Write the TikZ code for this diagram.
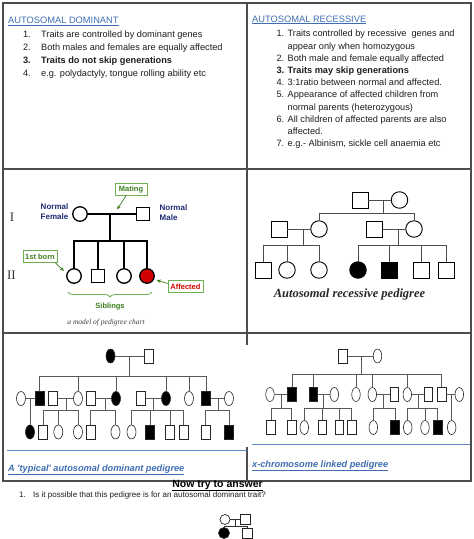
\documentclass[tikz,border=0pt]{standalone}
\usepackage{fontspec}
\setmainfont{Liberation Sans}
\newfontfamily\serifrm{Liberation Serif}
\usetikzlibrary{shapes.geometric,decorations.pathreplacing,arrows.meta}
\definecolor{linkblue}{HTML}{3F6DB3}
\definecolor{ruleblue}{HTML}{5D8AC6}
\definecolor{framegray}{HTML}{4D4D4D}
\definecolor{txtgray}{HTML}{1E1E1E}
\definecolor{labgreen}{HTML}{3D7F1F}
\definecolor{boxgreen}{HTML}{6FAE4E}
\definecolor{navytxt}{HTML}{1E2B72}
\definecolor{affred}{HTML}{D00000}
\newcommand\pedsym[4]{\node[#1] (#2) at (#3,#4) {};}
\begin{document}
\begin{tikzpicture}[x=1pt,y=-1pt,
 frame/.style={draw=framegray,line width=1.3pt},
 itemtxt/.style={inner sep=0pt,anchor=base west,text=txtgray,font=\fontsize{9.2}{11}\selectfont},
 itemnum/.style={inner sep=0pt,anchor=base east,text=txtgray,font=\fontsize{9.2}{11}\selectfont},
 headtxt/.style={inner sep=0pt,anchor=base west,text=linkblue,font=\fontsize{9.3}{11}\selectfont},
 mline/.style={draw=black,line width=1.3pt},
 msq/.style={rectangle,draw=black,line width=1.3pt,minimum size=13pt,inner sep=0pt,fill=white},
 mci/.style={circle,draw=black,line width=1.3pt,minimum size=14.5pt,inner sep=0pt,fill=white},
 navylab/.style={inner sep=0pt,text=navytxt,font=\bfseries\fontsize{8}{9.3}\selectfont},
 gbox/.style={draw=boxgreen,line width=0.6pt,fill=white,inner sep=1.2pt,minimum height=12pt,text=labgreen,font=\bfseries\fontsize{7.5}{8}\selectfont},
 garrow/.style={draw=labgreen,line width=0.7pt,-{Stealth[length=4.5pt,width=3.5pt]}},
 rline/.style={draw=black!70,line width=0.9pt},
 rsq/.style={rectangle,draw=black,line width=0.9pt,minimum size=16pt,inner sep=0pt,fill=white},
 rci/.style={circle,draw=black,line width=0.9pt,minimum size=16.5pt,inner sep=0pt,fill=white},
 tline/.style={draw=black!65,line width=0.6pt},
 tsq/.style={rectangle,draw=black!85,line width=0.6pt,minimum width=9pt,minimum height=14pt,inner sep=0pt,fill=white},
 tel/.style={ellipse,draw=black!85,line width=0.6pt,minimum width=9pt,minimum height=14pt,inner sep=0pt,fill=white},
 xsq/.style={tsq,minimum width=8.5pt},
 xel/.style={tel,minimum width=8.5pt},
 aff/.style={fill=black},
 capblue/.style={inner sep=0pt,anchor=base west,text=linkblue,font=\bfseries\itshape\fontsize{9.2}{11}\selectfont},
 qsq/.style={rectangle,draw=black!85,line width=0.7pt,minimum size=10pt,inner sep=0pt,fill=white},
 qci/.style={circle,draw=black!85,line width=0.7pt,minimum size=10pt,inner sep=0pt,fill=white},
]
\useasboundingbox (0,0) rectangle (474,539);
\fill[white] (0,0) rectangle (474,539);

% ---------- frame ----------
\draw[frame] (3,3) rectangle (471,481);
\draw[frame] (3,169) -- (471,169);
\draw[frame] (3,333) -- (471,333);
\draw[frame] (247,3) -- (247,345);
\draw[frame] (247,447) -- (247,481);

% ---------- autosomal dominant text ----------
\node[headtxt] (adh) at (8,23.5) {\underline{AUTOSOMAL DOMINANT}};
\node[itemnum] (ad1n) at (31,37.8) {1.};
\node[itemtxt] (ad1) at (41,37.8) {Traits are controlled by dominant genes};
\node[itemnum] (ad2n) at (31,50.6) {2.};
\node[itemtxt] (ad2) at (41,50.6) {Both males and females are equally affected};
\node[itemnum,font=\bfseries\fontsize{9.2}{11}\selectfont] (ad3n) at (31,63.4) {3.};
\node[itemtxt,font=\bfseries\fontsize{9.2}{11}\selectfont] (ad3) at (41,63.4) {Traits do not skip generations};
\node[itemnum] (ad4n) at (31,76.2) {4.};
\node[itemtxt] (ad4) at (41,76.2) {e.g. polydactyly, tongue rolling ability etc};

% ---------- autosomal recessive text ----------
\node[headtxt] (arh) at (252,22) {\underline{AUTOSOMAL RECESSIVE}};
\node[itemnum] (ar1n) at (284.5,36.8) {1.};
\node[itemtxt] (ar1) at (287.5,36.8) {Traits controlled by recessive\ \ genes and};
\node[itemtxt] (ar1b) at (287.5,49.0) {appear only when homozygous};
\node[itemnum] (ar2n) at (284.5,61.2) {2.};
\node[itemtxt] (ar2) at (287.5,61.2) {Both male and female equally affected};
\node[itemnum,font=\bfseries\fontsize{9.2}{11}\selectfont] (ar3n) at (284.5,73.4) {3.};
\node[itemtxt,font=\bfseries\fontsize{9.2}{11}\selectfont] (ar3) at (287.5,73.4) {Traits may skip generations};
\node[itemnum] (ar4n) at (284.5,85.6) {4.};
\node[itemtxt] (ar4) at (287.5,85.6) {3:1ratio between normal and affected.};
\node[itemnum] (ar5n) at (284.5,97.8) {5.};
\node[itemtxt] (ar5) at (287.5,97.8) {Appearance of affected children from};
\node[itemtxt] (ar5b) at (287.5,110.0) {normal parents (heterozygous)};
\node[itemnum] (ar6n) at (284.5,122.2) {6.};
\node[itemtxt] (ar6) at (287.5,122.2) {All children of affected parents are also};
\node[itemtxt] (ar6b) at (287.5,134.4) {affected.};
\node[itemnum] (ar7n) at (284.5,146.6) {7.};
\node[itemtxt] (ar7) at (287.5,146.6) {e.g.- Albinism, sickle cell anaemia etc};

% ---------- model pedigree chart ----------
\node[font=\serifrm\fontsize{13}{13}\selectfont,text=black!80,inner sep=0pt] (genI) at (12,217) {I};
\node[font=\serifrm\fontsize{13}{13}\selectfont,text=black!80,inner sep=0pt] (genII) at (11.5,275) {II};
\node[mci] (mfem) at (80,214) {};
\node[msq] (mmale) at (143,214) {};
\draw[mline] (mfem) -- (mmale);
\coordinate (mmid) at (110,214);
\coordinate (msib) at (110,241);
\draw[mline] (mmid) -- (msib);
\node[mci] (mc1) at (74,276) {};
\node[msq] (mc2) at (98,276) {};
\node[mci] (mc3) at (124,276) {};
\node[mci,fill=affred] (mc4) at (147,276) {};
\draw[mline] (mc1.north) |- (msib);
\draw[mline] (mc4.north) |- (msib);
\draw[mline] (mc2.north) -- (mc2.north |- msib);
\draw[mline] (mc3.north) -- (mc3.north |- msib);
\node[navylab,align=right,anchor=east] (nfem) at (68.5,211.5) {Normal\\Female};
\node[navylab,align=left,anchor=west] (nmale) at (159.5,212.5) {Normal\\Male};
\node[gbox,minimum width=32pt] (mating) at (131,189.5) {Mating};
\coordinate (matetip) at (117,209.5);
\draw[garrow] ([xshift=-5pt]mating.south) -- (matetip);
\node[gbox,minimum width=34pt] (born) at (40,256.5) {1st born};
\coordinate (borntip) at (64,271);
\draw[garrow] ([xshift=-2pt]born.south east) -- (borntip);
\node[gbox,minimum width=35pt,text=affred] (affbox) at (185.5,286.5) {Affected};
\coordinate (afftip) at (156.5,280);
\draw[garrow] ([yshift=3pt]affbox.west) -- (afftip);
\coordinate (brl) at (68,292);
\coordinate (brr) at (152,292);
\draw[draw=boxgreen,line width=0.8pt,decorate,decoration={brace,mirror,amplitude=5pt}] (brl) -- (brr);
\node[inner sep=0pt,text=labgreen,font=\bfseries\fontsize{7.5}{8}\selectfont] (sibl) at (110,306.5) {Siblings};
\node[inner sep=0pt,text=black!75,font=\serifrm\itshape\fontsize{7.5}{8}\selectfont] (mcap) at (106,322.5) {a model of pedigree chart};

% ---------- autosomal recessive pedigree ----------
\node[rsq] (rf1) at (360,200) {};
\node[rci] (rf2) at (399.5,200) {};
\draw[rline] (rf1) -- (rf2);
\coordinate (rfm) at (383,200);
\coordinate (rfs) at (383,213);
\draw[rline] (rfm) -- (rfs);
\node[rsq] (ra) at (279,229) {};
\node[rci] (rb) at (319,229) {};
\node[rsq] (rc) at (374.5,229) {};
\node[rci] (rd) at (414,229) {};
\draw[rline] (rb.north) |- (rfs);
\draw[rline] (rd.north) |- (rfs);
\draw[rline] (ra) -- (rb);
\draw[rline] (rc) -- (rd);
\coordinate (rabm) at (303,229);
\coordinate (rabs) at (303,245);
\draw[rline] (rabm) -- (rabs);
\coordinate (rcdm) at (398,229);
\coordinate (rcds) at (398,245);
\draw[rline] (rcdm) -- (rcds);
\node[rsq] (rk1) at (263,270) {};
\node[rci] (rk2) at (287,270) {};
\node[rci] (rk3) at (319,270) {};
\node[rci,fill=black] (rk4) at (358,270) {};
\node[rsq,fill=black] (rk5) at (389.5,270) {};
\node[rsq] (rk6) at (421,270) {};
\node[rsq] (rk7) at (446,270) {};
\draw[rline] (rk1.north) |- (rabs);
\draw[rline] (rk3.north) |- (rabs);
\draw[rline] (rk2.north) -- (rk2.north |- rabs);
\draw[rline] (rk4.north) |- (rcds);
\draw[rline] (rk7.north) |- (rcds);
\draw[rline] (rk5.north) -- (rk5.north |- rcds);
\draw[rline] (rk6.north) -- (rk6.north |- rcds);
\node[inner sep=0pt,text=black!85,font=\serifrm\bfseries\itshape\fontsize{12.5}{13}\selectfont] (rcap) at (349.5,294) {Autosomal recessive pedigree};

% ---------- typical autosomal dominant pedigree ----------
\pedsym{tel,aff}{Lf}{110.5}{356}
\pedsym{tsq}{Lm}{148.5}{356}
\draw[tline] (Lf) -- (Lm);
\coordinate (Lfm) at (129,356);
\coordinate (Lfs) at (129,376);
\draw[tline] (Lfm) -- (Lfs);
\pedsym{tel}{a1}{21}{398.5}
\pedsym{tsq,aff}{a2}{39.5}{398.5}
\pedsym{tsq}{a3}{52.5}{398.5}
\pedsym{tel}{a4}{78}{398.5}
\pedsym{tsq}{a5}{90.5}{398.5}
\pedsym{tel,aff}{a6}{116}{398.5}
\pedsym{tsq}{a7}{141}{398.5}
\pedsym{tel,aff}{a8}{166}{398.5}
\pedsym{tel}{a9}{189}{398.5}
\pedsym{tsq,aff}{a10}{206}{398.5}
\pedsym{tel}{a11}{229}{398.5}
\draw[tline] (a2.north) |- (Lfs);
\draw[tline] (a10.north) |- (Lfs);
\foreach \n in {a4,a6,a8,a9} \draw[tline] (\n.north) -- (\n.north |- Lfs);
\draw[tline] (a1) -- (a2);
\draw[tline] (a3) -- (a4);
\draw[tline] (a5) -- (a6);
\draw[tline] (a7) -- (a8);
\draw[tline] (a10) -- (a11);
\pedsym{tel,aff}{b1}{30}{432}
\pedsym{tsq}{b2}{43}{432}
\pedsym{tel}{b3}{58.3}{432}
\pedsym{tel}{b4}{78}{432}
\pedsym{tsq}{b5}{90.5}{432}
\pedsym{tel}{b6}{115.5}{432}
\pedsym{tel}{b7}{131.5}{432}
\pedsym{tsq,aff}{b8}{150}{432}
\pedsym{tsq}{b9}{170}{432}
\pedsym{tsq}{b10}{183.3}{432}
\pedsym{tsq}{b11}{205.5}{432}
\pedsym{tsq,aff}{b12}{229}{432}
\coordinate (m12) at (30,398.5);
\draw[tline] (m12) -- (b1);
\coordinate (m34) at (66,398.5);
\coordinate (s34) at (66,410);
\draw[tline] (m34) -- (s34);
\draw[tline] (b2.north) |- (s34);
\draw[tline] (b4.north) |- (s34);
\draw[tline] (b3.north) -- (b3.north |- s34);
\coordinate (m56) at (105.5,398.5);
\coordinate (s56) at (105.5,410);
\draw[tline] (m56) -- (s56);
\draw[tline] (b5.north) |- (s56);
\draw[tline] (b6.north) |- (s56);
\coordinate (m78) at (153,398.5);
\coordinate (s78) at (153,410);
\draw[tline] (m78) -- (s78);
\draw[tline] (b7.north) |- (s78);
\draw[tline] (b10.north) |- (s78);
\draw[tline] (b8.north) -- (b8.north |- s78);
\draw[tline] (b9.north) -- (b9.north |- s78);
\coordinate (m1011) at (218.5,398.5);
\coordinate (s1011) at (218.5,410);
\draw[tline] (m1011) -- (s1011);
\draw[tline] (b11.north) |- (s1011);
\draw[tline] (b12.north) |- (s1011);
\draw[ruleblue,line width=1pt] (7,450) -- (247,450);
\node[capblue] (adcap) at (8,471) {\underline{A \textquotesingle typical\textquotesingle{} autosomal dominant pedigree}};

% ---------- x-linked pedigree ----------
\pedsym{xsq}{Rm}{343}{356}
\pedsym{xel}{Rf}{377.5}{356}
\draw[tline] (Rm) -- (Rf);
\coordinate (Rfm) at (361,356);
\coordinate (Rfs) at (361,374);
\draw[tline] (Rfm) -- (Rfs);
\pedsym{xel}{c1}{270}{394.5}
\pedsym{xsq,aff}{c2}{292}{394.5}
\pedsym{xsq,aff}{c3}{313.3}{394.5}
\pedsym{xel}{c4}{334.3}{394.5}
\pedsym{xel}{c5}{356}{394.5}
\pedsym{xel}{c6}{372.3}{394.5}
\pedsym{xsq}{c7}{394.3}{394.5}
\pedsym{xel}{c8}{407.3}{394.5}
\pedsym{xsq}{c9}{428.3}{394.5}
\pedsym{xsq}{c10}{441.7}{394.5}
\pedsym{xel}{c11}{459.3}{394.5}
\draw[tline] (c2.north) |- (Rfs);
\draw[tline] (c10.north) |- (Rfs);
\foreach \n in {c3,c5,c6,c8} \draw[tline] (\n.north) -- (\n.north |- Rfs);
\draw[tline] (c1) -- (c2);
\draw[tline] (c3) -- (c4);
\draw[tline] (c6) -- (c7);
\draw[tline] (c8) -- (c9);
\draw[tline] (c10) -- (c11);
\pedsym{xsq}{d1}{271}{427.5}
\pedsym{xsq}{d2}{291.7}{427.5}
\pedsym{xel}{d3}{304.3}{427.5}
\pedsym{xsq}{d4}{322.3}{427.5}
\pedsym{xsq}{d5}{339.3}{427.5}
\pedsym{xsq}{d6}{351.7}{427.5}
\pedsym{xel}{d7}{373.3}{427.5}
\pedsym{xsq,aff}{d8}{395}{427.5}
\pedsym{xel}{d9}{407.7}{427.5}
\pedsym{xel}{d10}{425}{427.5}
\pedsym{xsq,aff}{d11}{437.7}{427.5}
\pedsym{xel}{d12}{451.7}{427.5}
\coordinate (n12) at (281,394.5);
\coordinate (t12) at (281,408);
\draw[tline] (n12) -- (t12);
\draw[tline] (d1.north) |- (t12);
\draw[tline] (d2.north) |- (t12);
\coordinate (n34) at (323.5,394.5);
\coordinate (t34) at (323.5,408);
\draw[tline] (n34) -- (t34);
\draw[tline] (d3.north) |- (t34);
\draw[tline] (d6.north) |- (t34);
\draw[tline] (d4.north) -- (d4.north |- t34);
\draw[tline] (d5.north) -- (d5.north |- t34);
\coordinate (n67) at (383.3,394.5);
\coordinate (t67) at (383.3,408);
\draw[tline] (n67) -- (t67);
\draw[tline] (d7.north) |- (t67);
\draw[tline] (d8.north) |- (t67);
\coordinate (n89) at (417.8,394.5);
\coordinate (t89) at (417.8,408);
\draw[tline] (n89) -- (t89);
\draw[tline] (d9.north) |- (t89);
\draw[tline] (d11.north) |- (t89);
\draw[tline] (d10.north) -- (d10.north |- t89);
\coordinate (n1011) at (451.7,394.5);
\draw[tline] (n1011) -- (d12);
\draw[ruleblue,line width=1pt] (252,444) -- (470,444);
\node[capblue] (xcap) at (252,467) {\underline{x-chromosome linked pedigree}};

% ---------- question ----------
\node[inner sep=0pt,anchor=base,text=black,font=\bfseries\fontsize{10.5}{12}\selectfont] (ntta) at (217.5,487) {\underline{Now try to answer}};
\node[inner sep=0pt,anchor=base east,text=txtgray,font=\fontsize{8}{9}\selectfont] (q1n) at (26,497) {1.};
\node[inner sep=0pt,anchor=base west,text=txtgray,font=\fontsize{8}{9}\selectfont] (q1) at (33,497) {Is it possible that this pedigree is for an autosomal dominant trait?};
\node[qci] (qf) at (225,519.5) {};
\node[qsq] (qm) at (245,519.5) {};
\draw[tline,draw=black!80] (qf) -- (qm);
\coordinate (qmid) at (235,519.5);
\coordinate (qsib) at (235,526);
\draw[tline,draw=black!80] (qmid) -- (qsib);
\node[qci,fill=black,minimum size=11pt] (qk1) at (224,533) {};
\node[qsq] (qk2) at (247,533) {};
\draw[tline,draw=black!80] (qk1.north) |- (qsib);
\draw[tline,draw=black!80] (qk2.north) |- (qsib);
\end{tikzpicture}
\end{document}
